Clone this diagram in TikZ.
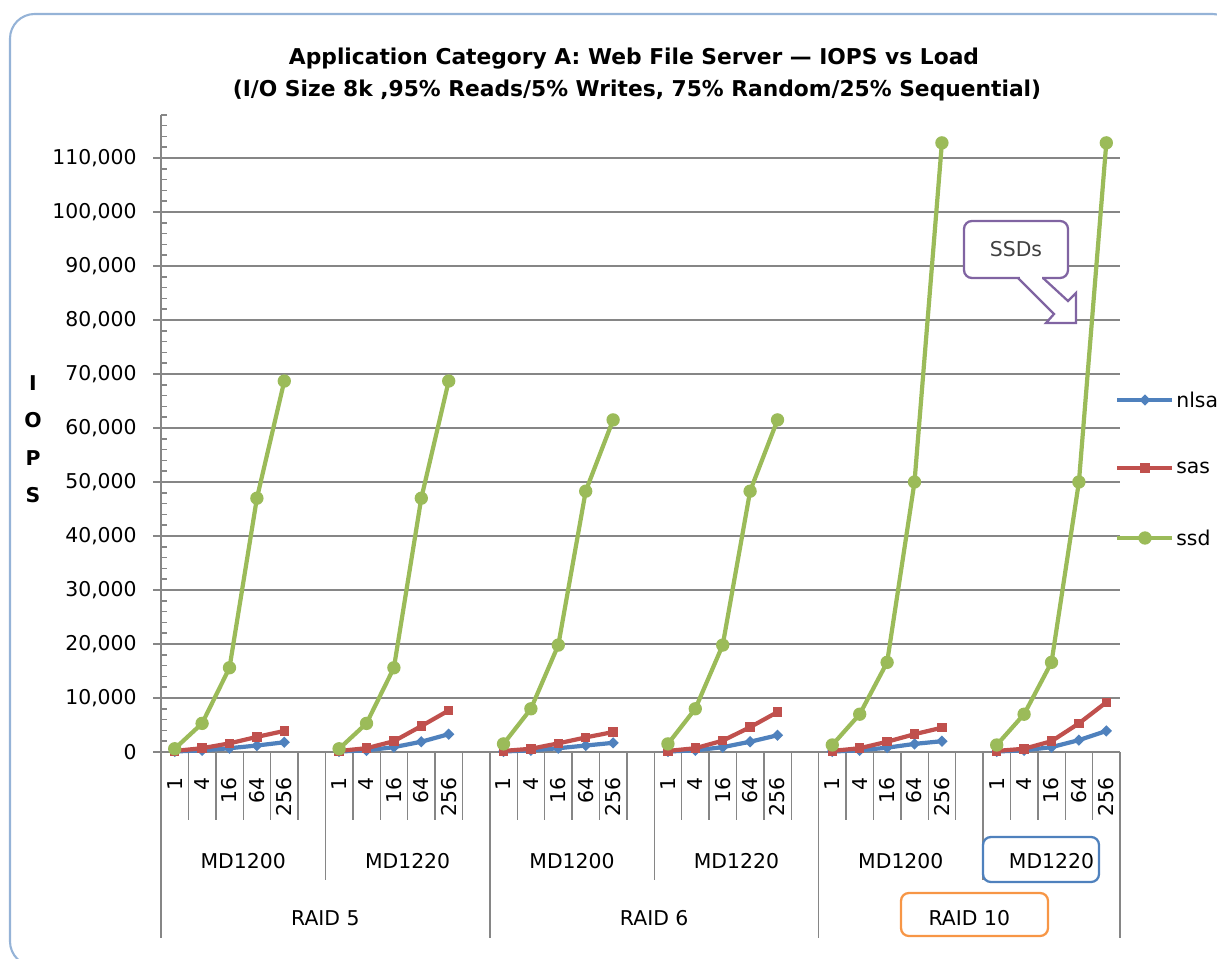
\documentclass[tikz,border=0pt]{standalone}
\usepackage{fontspec}
\setmainfont{DejaVu Sans}
\usetikzlibrary{shapes.geometric}

\definecolor{nlsasblue}{HTML}{4F81BD}
\definecolor{sasred}{HTML}{C0504D}
\definecolor{ssdgreen}{HTML}{9BBB59}
\definecolor{notepurple}{HTML}{8064A2}
\definecolor{raidorange}{HTML}{F79646}
\definecolor{axisgray}{HTML}{868686}
\definecolor{frameblue}{HTML}{95B3D7}
\definecolor{notetext}{HTML}{404040}

\begin{document}
\begin{tikzpicture}[x=0.02cm, y=-0.02cm,
  every node/.style={inner sep=0pt, font=\fontsize{11.6}{14}\selectfont},
  gridline/.style={draw=axisgray, line width=1.1pt},
  axisline/.style={draw=axisgray, line width=0.9pt},
  catline/.style={draw=axisgray, line width=0.8pt},
  catlabel/.style={rotate=90, anchor=east},
  serieline/.style={line width=2.4pt, line join=round, line cap=round},
  nlsasmark/.style={diamond, fill=nlsasblue, minimum size=6.6pt},
  sasmark/.style={rectangle, fill=sasred, minimum size=5.4pt},
  ssdmark/.style={circle, fill=ssdgreen, minimum size=7.6pt},
  hlbox/.style={line width=1.3pt, rounded corners=4.5pt}]

  \useasboundingbox (0,0) rectangle (1217,959);

  % chart frame
  \draw[frameblue, line width=1.2pt, rounded corners=14pt] (10,14) rectangle (1237,966);

  % title
  \node[anchor=base, font=\fontsize{12.4}{15}\selectfont\bfseries] (title-a) at (634,65)
    {Application Category A: Web File Server --- IOPS vs Load};
  \node[anchor=base, font=\fontsize{12.4}{15}\selectfont\bfseries] (title-b) at (637,97)
    {(I/O Size 8k ,95\% Reads/5\% Writes, 75\% Random/25\% Sequential)};

  % value axis
  \foreach \k/\lab in {0/0, 1/{10,000}, 2/{20,000}, 3/{30,000}, 4/{40,000}, 5/{50,000},
      6/{60,000}, 7/{70,000}, 8/{80,000}, 9/{90,000}, 10/{100,000}, 11/{110,000}}{
    \draw[gridline] (153,{752-54*\k}) -- (1120,{752-54*\k});
    \node[anchor=east] (ytick-\k) at (137,{752-54*\k}) {\lab};
  }
  \foreach \k in {1,...,59}
    \draw[axisline] (161,{752-10.8*\k}) -- (167,{752-10.8*\k});
  \draw[axisline] (161,114.8) -- (161,938);

  % axis title
  \foreach \ch/\yy in {I/383, O/420, P/458, S/495}
    \node[font=\fontsize{11.6}{14}\selectfont\bfseries] (ytitle-\ch) at (33,\yy) {\ch};

  % category axis
  \foreach \i in {1,...,35}
    \draw[catline] ({161+27.4*\i},752) -- ({161+27.4*\i},820);
  \foreach \i in {6,18,30}
    \draw[catline] ({161+27.4*\i},752) -- ({161+27.4*\i},880);
  \foreach \i in {12,24,35}
    \draw[catline] ({161+27.4*\i},752) -- ({161+27.4*\i},938);
  \foreach \g in {1,...,6}
    \foreach \lab [count=\j] in {1,4,16,64,256}
      \node[catlabel] (cat-\g-\j) at ({161+(6*(\g-1)+\j-0.5)*27.4},777) {\lab};
  \foreach \g/\lab in {1/MD1200, 2/MD1220, 3/MD1200, 4/MD1220, 5/MD1200}
    \node (md-\g) at ({161+27.4*(6*(\g-1)+3)},861) {\lab};
  \node (md-6) at (1051.5,861) {MD1220};
  \node (raid-5) at (325.4,918) {RAID 5};
  \node (raid-6) at (654.2,918) {RAID 6};
  \node (raid-10) at (969.3,918) {RAID 10};

  % data points (thousands of IOPS)
  \foreach \g/\vals in {1/{0.1,0.3,0.7,1.2,1.8}, 2/{0.1,0.3,0.9,1.9,3.3}, 3/{0.1,0.3,0.7,1.2,1.7},
      4/{0.1,0.3,0.9,1.9,3.1}, 5/{0.1,0.3,0.8,1.5,2.0}, 6/{0.1,0.3,0.9,2.2,3.9}}
    \foreach \v [count=\j] in \vals
      \coordinate (nlsas-\g-\j) at ({161+(6*(\g-1)+\j-0.5)*27.4},{752-5.4*\v});
  \foreach \g/\vals in {1/{0.2,0.7,1.6,2.8,3.9}, 2/{0.2,0.7,2.0,4.8,7.7}, 3/{0.2,0.6,1.6,2.7,3.7},
      4/{0.2,0.7,2.1,4.6,7.4}, 5/{0.2,0.7,1.9,3.3,4.5}, 6/{0.2,0.6,2.0,5.3,9.2}}
    \foreach \v [count=\j] in \vals
      \coordinate (sas-\g-\j) at ({161+(6*(\g-1)+\j-0.5)*27.4},{752-5.4*\v});
  \foreach \g/\vals in {1/{0.6,5.3,15.6,47.0,68.7}, 2/{0.6,5.3,15.6,47.0,68.7}, 3/{1.5,8.0,19.8,48.3,61.5},
      4/{1.5,8.0,19.8,48.3,61.5}, 5/{1.3,7.0,16.6,50.0,112.8}, 6/{1.3,7.0,16.6,50.0,112.8}}
    \foreach \v [count=\j] in \vals
      \coordinate (ssd-\g-\j) at ({161+(6*(\g-1)+\j-0.5)*27.4},{752-5.4*\v});

  % series
  \foreach \s/\c in {nlsas/nlsasblue, sas/sasred, ssd/ssdgreen}{
    \foreach \g in {1,...,6}{
      \draw[serieline, \c] (\s-\g-1) \foreach \j in {2,...,5}{ -- (\s-\g-\j)};
      \foreach \j in {1,...,5}
        \node[\s mark] at (\s-\g-\j) {};
    }
  }

  % legend
  \foreach \s/\c/\yy in {nlsas/nlsasblue/400, sas/sasred/468, ssd/ssdgreen/538}{
    \coordinate (key-\s-a) at (1117,\yy);
    \coordinate (key-\s-b) at (1172,\yy);
    \draw[serieline, \c, line cap=butt] (key-\s-a) -- (key-\s-b);
    \node[\s mark] (key-\s) at (1145,\yy) {};
    \node[anchor=west] (key-\s-text) at (1176,\yy) {\s};
  }

  % callout
  \fill[white] (1018,275) -- (1054,314) -- (1046,323) -- (1076,323) -- (1076,293)
    -- (1068,301) -- (1043,275) -- cycle;
  \node[draw=notepurple, line width=1.3pt, rounded corners=4.5pt, fill=white,
    minimum width=2.08cm, minimum height=1.14cm, text=notetext] (ssdnote) at (1016,249.5) {SSDs};
  \fill[white] (1019.5,276) rectangle (1041.5,281);
  \draw[notepurple, line width=1.3pt] (1018,278) -- (1054,314) -- (1046,323) -- (1076,323)
    -- (1076,293) -- (1068,301) -- (1043,278);

  % highlights
  \draw[hlbox, nlsasblue] (983,837) rectangle (1099,882);
  \draw[hlbox, raidorange] (901,893) rectangle (1048,936);
\end{tikzpicture}
\end{document}
